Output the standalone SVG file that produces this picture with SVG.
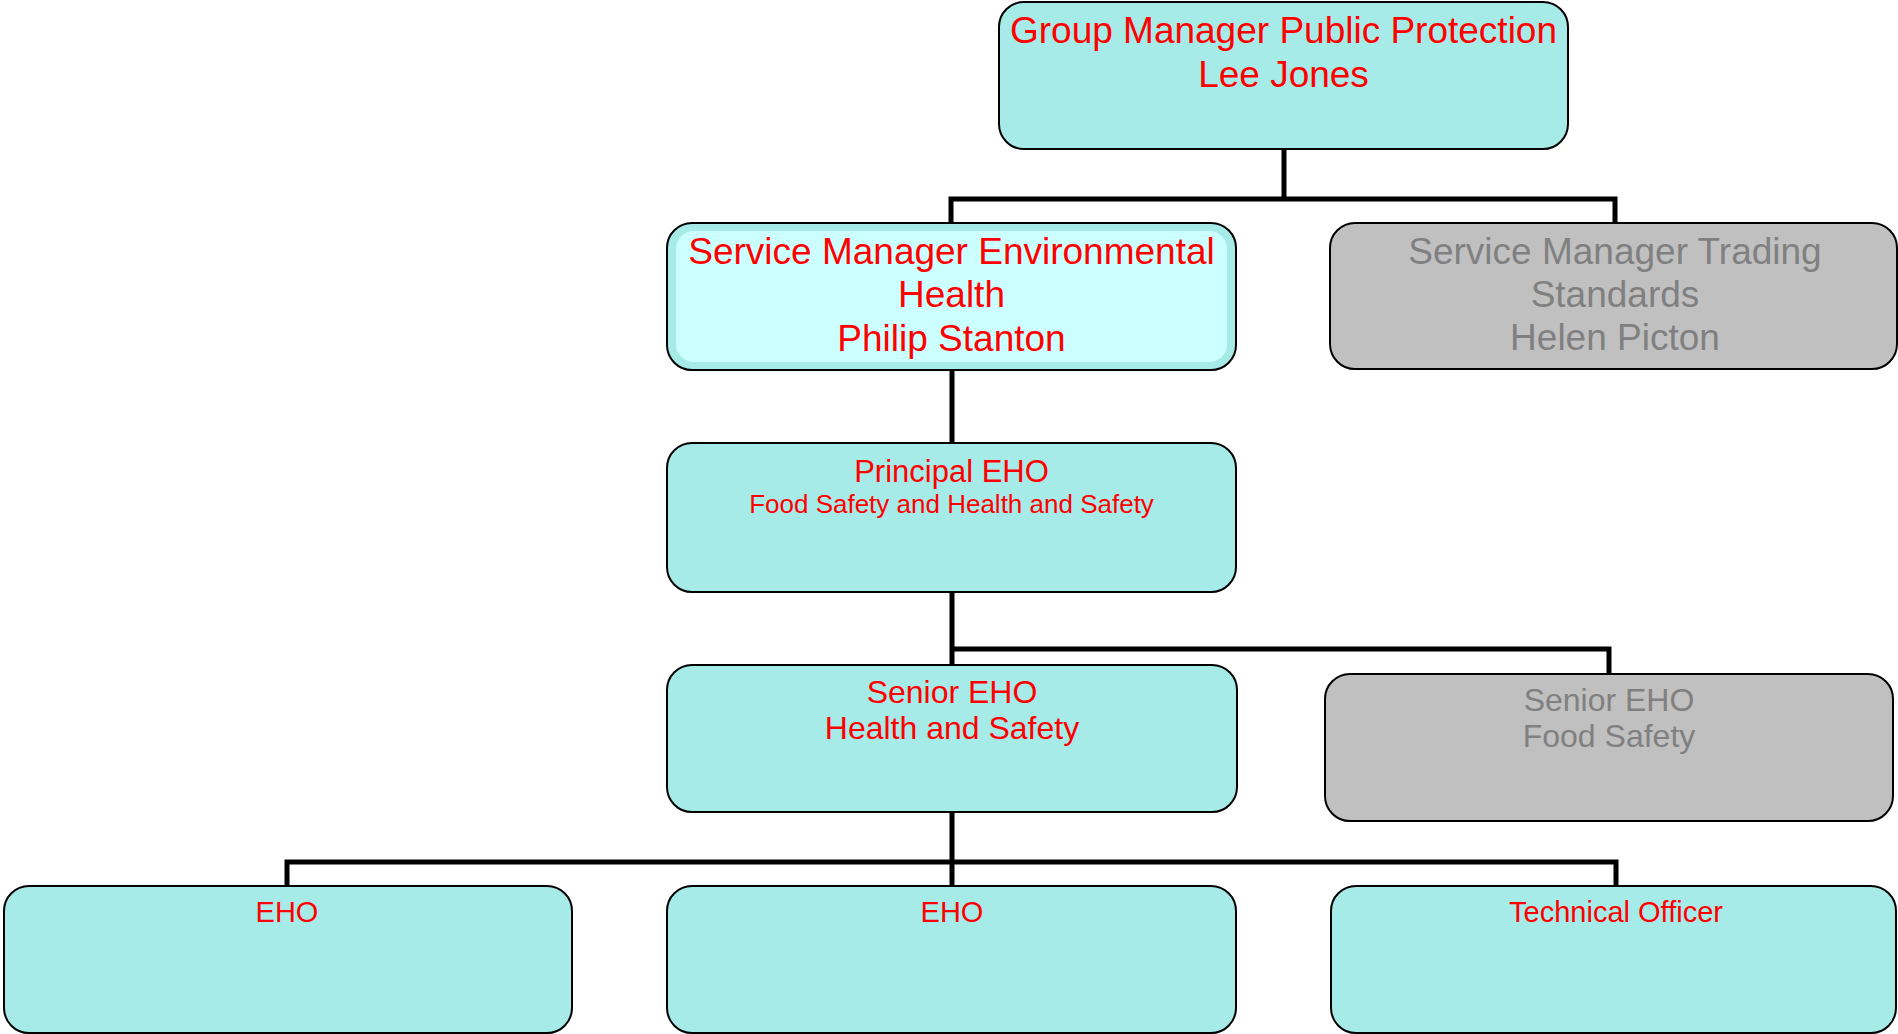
<svg xmlns="http://www.w3.org/2000/svg" width="1898" height="1034" viewBox="0 0 1898 1034">
<style>
.box{stroke:#000;stroke-width:2}
.teal{fill:#A6EBE8}
.grey{fill:#C0C0C0}
.inner{fill:#CCFFFF}
.conn{fill:none;stroke:#000;stroke-width:5;stroke-linejoin:miter;stroke-linecap:butt}
text{font-family:"Liberation Sans",Arial,sans-serif;text-anchor:middle}
.red{fill:#FF0000}
.gt{fill:#808080}
.f37{font-size:37px}
.f32{font-size:32px}
.f31{font-size:31px}
.f26{font-size:26px}
.f29{font-size:29px}
</style>
<rect width="1898" height="1034" fill="#FFFFFF"/>
<g id="connectors">
<path class="conn" d="M1284 149 V199 M951 223 V199 H1615 V223"/>
<path class="conn" d="M952 370 V443"/>
<path class="conn" d="M952 592 V665 M952 649 H1609 V674"/>
<path class="conn" d="M952 812 V886 M287 886 V862 H1616 V886"/>
</g>
<g id="group-manager">
<rect class="box teal" x="999" y="2" width="569" height="147" rx="25"/>
<text class="red f37" x="1283.5" y="43">Group Manager Public Protection</text>
<text class="red f37" x="1283.5" y="87">Lee Jones</text>
</g>
<g id="service-manager-eh">
<rect class="box teal" x="667" y="223" width="569" height="147" rx="25"/>
<rect class="inner" x="676" y="231" width="551" height="131" rx="18"/>
<text class="red f37" x="951.5" y="264">Service Manager Environmental</text>
<text class="red f37" x="951.5" y="307">Health</text>
<text class="red f37" x="951.5" y="351">Philip Stanton</text>
</g>
<g id="service-manager-ts">
<rect class="box grey" x="1330" y="223" width="567" height="146" rx="25"/>
<text class="gt f37" x="1615" y="264">Service Manager Trading</text>
<text class="gt f37" x="1615" y="307">Standards</text>
<text class="gt f37" x="1615" y="350">Helen Picton</text>
</g>
<g id="principal-eho">
<rect class="box teal" x="667" y="443" width="569" height="149" rx="25"/>
<text class="red f31" x="951.5" y="482">Principal EHO</text>
<text class="red f26" x="951.5" y="513">Food Safety and Health and Safety</text>
</g>
<g id="senior-eho-hs">
<rect class="box teal" x="667" y="665" width="570" height="147" rx="25"/>
<text class="red f32" x="952" y="703">Senior EHO</text>
<text class="red f32" x="952" y="739">Health and Safety</text>
</g>
<g id="senior-eho-fs">
<rect class="box grey" x="1325" y="674" width="568" height="147" rx="25"/>
<text class="gt f32" x="1609" y="711">Senior EHO</text>
<text class="gt f32" x="1609" y="747">Food Safety</text>
</g>
<g id="eho-1">
<rect class="box teal" x="4" y="886" width="568" height="147" rx="25"/>
<text class="red f29" x="287" y="922">EHO</text>
</g>
<g id="eho-2">
<rect class="box teal" x="667" y="886" width="569" height="147" rx="25"/>
<text class="red f29" x="952" y="922">EHO</text>
</g>
<g id="technical-officer">
<rect class="box teal" x="1331" y="886" width="565" height="147" rx="25"/>
<text class="red f29" x="1616" y="922">Technical Officer</text>
</g>
</svg>
